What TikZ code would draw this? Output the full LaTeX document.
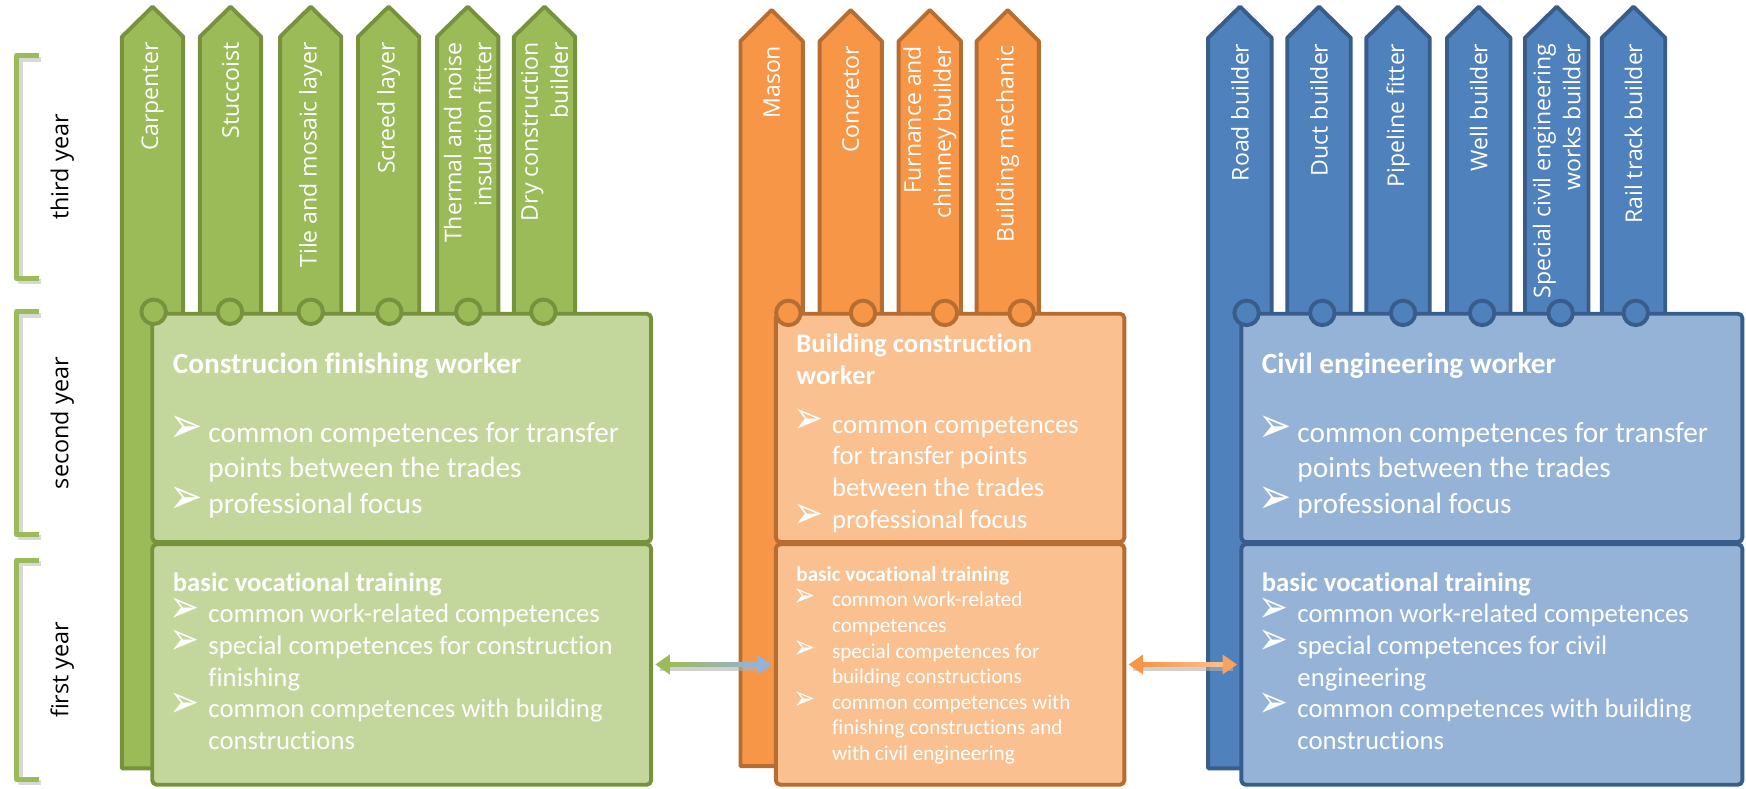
\documentclass[tikz,border=0pt]{standalone}
\usepackage{fontspec}
\usepackage{graphicx}
\setmainfont{Carlito}[Ligatures=NoCommon]
\newfontfamily\osans{Open Sans}
\newfontfamily\dejavu{DejaVu Sans}
\usetikzlibrary{calc,arrows.meta}
\definecolor{gfill}{HTML}{9BBB59}
\definecolor{gdark}{HTML}{76923C}
\definecolor{glight}{HTML}{C3D69B}
\definecolor{ofill}{HTML}{F79646}
\definecolor{odark}{HTML}{B66D31}
\definecolor{olight}{HTML}{FAC090}
\definecolor{bfill}{HTML}{4F81BD}
\definecolor{bdark}{HTML}{385D8A}
\definecolor{blight}{HTML}{95B3D7}
\newlength\bind
\setlength\bind{32pt}
\def\bw{30pt}\def\bh{24pt}
\newcommand\bul{\makebox[\bind][l]{\hspace*{-3pt}\raisebox{0pt}[0pt][0pt]{\resizebox{\bw}{\bh}{\dejavu\char"27A2}}}}
\newcommand\hd[1]{\multicolumn{2}{@{}l@{}}{\textbf{#1}}}
\newenvironment{blist}{\begin{tabular}[t]{@{}l@{}l@{}}}{\end{tabular}}
\tikzset{
  col/.style={line width=3.5pt, line join=round},
  lab/.style={rotate=90, anchor=east, align=right, text=white, inner sep=0pt,
    font=\osans\fontsize{20.7}{27}\selectfont},
  box/.style={rectangle, rounded corners=4pt, line width=3.5pt, anchor=north west, inner sep=0pt},
  dot/.style={circle, line width=3.5pt, minimum size=22pt, inner sep=0pt},
  btxt/.style={anchor=base west, text=white, inner sep=0pt},
  bracket/.style={line width=4.5pt, draw=gfill},
  yearlab/.style={rotate=90, font=\osans\fontsize{21}{26}\selectfont, inner sep=0pt},
  conn/.style={line width=4pt}
}
\begin{document}
\begin{tikzpicture}[x=1pt,y=-1pt,line join=round]
\useasboundingbox (0,0) rectangle (1568,708);
\fill[white] (0,0) rectangle (1568,708);
% brackets
\foreach \ya/\yb/\lab/\n in {50/250/third year/3,280/480/second year/2,503/700/first year/1}{
  \draw[line width=4.5pt, black!30, opacity=0.5] (37,\ya+3) -- (18,\ya+3) -- (18,\yb+3) -- (37,\yb+3);
  \draw[bracket] (35,\ya) -- (15,\ya) -- (15,\yb) -- (35,\yb);
  \node[yearlab] (year\n) at (56,{(\ya+\yb)/2}) {\lab};
}
% ---------------- green group
\foreach \cx/\lab [count=\i] in {137/Carpenter,207/Stuccoist,279/{Tile and mosaic layer},349/{Screed layer},420/{Thermal and noise\\insulation fitter},489/{Dry construction\\builder}}{
  \ifnum\i=1 \def\bot{690}\else\def\bot{285}\fi
  \draw[col, fill=gfill, draw=gdark] ({\cx-27.5},\bot) -- ({\cx-27.5},33) -- (\cx,6) -- ({\cx+27.5},33) -- ({\cx+27.5},\bot) -- cycle;
  \node[lab] (gl\i) at (\cx,38) {\lab};
}
\node[box, fill=glight, draw=gdark, minimum width=448pt, minimum height=205pt] (gtop) at (135,280) {};
\node[box, fill=glight, draw=gdark, minimum width=448pt, minimum height=216pt] (gbot) at (135,487) {};
\foreach \x [count=\i] in {138,206.5,279,349.6,420.6,488}{
  \node[dot, fill=gfill, draw=gdark] (gc\i) at (\x,280) {};
}
\def\bw{30pt}\def\bh{24pt}
\node[btxt, font=\fontsize{26.3}{32}\selectfont] (gtt) at (155,335)
  {\begin{blist}\hd{Construcion finishing worker}\\[30pt]
   \bul & common competences for transfer\\ & points between the trades\\
   \bul & professional focus\end{blist}};
\def\bw{27pt}\def\bh{22pt}
\node[btxt, font=\fontsize{24}{28.4}\selectfont] (gbt) at (155,531)
  {\begin{blist}\hd{basic vocational training}\\
   \bul & common work-related competences\\
   \bul & special competences for construction\\ & finishing\\
   \bul & common competences with building\\ & constructions\end{blist}};
% ---------------- orange group
\foreach \cx/\lab [count=\i] in {693/Mason,764/Concretor,835/{Furnance and\\chimney builder},905/{Building mechanic}}{
  \ifnum\i=1 \def\bot{688}\else\def\bot{285}\fi
  \draw[col, fill=ofill, draw=odark] ({\cx-28},\bot) -- ({\cx-28},37) -- (\cx,9) -- ({\cx+28},37) -- ({\cx+28},\bot) -- cycle;
  \node[lab] (ol\i) at (\cx,41) {\lab};
}
\node[box, fill=olight, draw=odark, minimum width=313pt, minimum height=205pt] (otop) at (695,280) {};
\node[box, fill=olight, draw=odark, minimum width=313pt, minimum height=216pt] (obot) at (695,487) {};
\foreach \x [count=\i] in {708,775,848.6,917.5}{
  \node[dot, fill=ofill, draw=odark] (oc\i) at (\x,281) {};
}
\def\bw{27pt}\def\bh{22pt}
\node[btxt, font=\fontsize{24}{28.5}\selectfont] (ott) at (715,317)
  {\begin{blist}\hd{Building construction}\\ \hd{worker}\\[15pt]
   \bul & common competences\\ & for transfer points\\ & between the trades\\
   \bul & professional focus\end{blist}};
\def\bw{20pt}\def\bh{16pt}
\node[btxt, font=\fontsize{19}{23}\selectfont] (obt) at (715,522)
  {\begin{blist}\hd{basic vocational training}\\
   \bul & common work-related\\ & competences\\
   \bul & special competences for\\ & building constructions\\
   \bul & common competences with\\ & finishing constructions and\\ & with civil engineering\end{blist}};
% ---------------- blue group
\foreach \cx/\lab [count=\i] in {1113.5/{Road builder},1184.5/{Duct builder},1255.5/{Pipeline fitter},1328/{Well builder},1398/{Special civil engineering\\works builder},1467/{Rail track builder}}{
  \ifnum\i=1 \def\bot{690}\else\def\bot{285}\fi
  \draw[col, fill=bfill, draw=bdark] ({\cx-28.5},\bot) -- ({\cx-28.5},34) -- (\cx,6) -- ({\cx+28.5},34) -- ({\cx+28.5},\bot) -- cycle;
  \node[lab] (bl\i) at (\cx,39) {\lab};
}
\node[box, fill=blight, draw=bdark, minimum width=450pt, minimum height=205pt] (btop) at (1113,280) {};
\node[box, fill=blight, draw=bdark, minimum width=450pt, minimum height=216pt] (bbot) at (1113,487) {};
\foreach \x [count=\i] in {1119.5,1187.5,1260,1331,1401.5,1469}{
  \node[dot, fill=bfill, draw=bdark] (bc\i) at (\x,281) {};
}
\def\bw{30pt}\def\bh{24pt}
\node[btxt, font=\fontsize{26.3}{32}\selectfont] (btt) at (1133,335)
  {\begin{blist}\hd{Civil engineering worker}\\[30pt]
   \bul & common competences for transfer\\ & points between the trades\\
   \bul & professional focus\end{blist}};
\def\bw{27pt}\def\bh{22pt}
\node[btxt, font=\fontsize{24}{28.4}\selectfont] (bbt) at (1133,531)
  {\begin{blist}\hd{basic vocational training}\\
   \bul & common work-related competences\\
   \bul & special competences for civil\\ & engineering\\
   \bul & common competences with building\\ & constructions\end{blist}};
% ---------------- connectors
\draw[conn, black!30, opacity=0.6, shorten <=6pt, shorten >=6pt] ($(gbot.east)+(0,4)$) -- ($(obot.west)+(0,4)$);
\draw[conn, draw=gfill!50!blight, {Triangle[length=13pt,width=17pt,color=gfill]}-{Triangle[length=13pt,width=17pt,color=blight]}, shorten <=2pt, shorten >=2pt] (gbot.east) -- (obot.west);
\shade[left color=gfill, right color=blight] ($(gbot.east)+(15,-2)$) rectangle ($(obot.west)+(-15,2)$);
\draw[conn, black!30, opacity=0.6, shorten <=6pt, shorten >=6pt] ($(obot.east)+(0,4)$) -- ($(bbot.west)+(0,4)$);
\draw[conn, draw=ofill!50!olight, {Triangle[length=13pt,width=17pt,color=ofill]}-{Triangle[length=13pt,width=17pt,color=ofill!70!olight]}, shorten <=2pt, shorten >=2pt] (obot.east) -- (bbot.west);
\shade[left color=ofill, right color=olight] ($(obot.east)+(15,-2)$) rectangle ($(bbot.west)+(-15,2)$);
\end{tikzpicture}
\end{document}
